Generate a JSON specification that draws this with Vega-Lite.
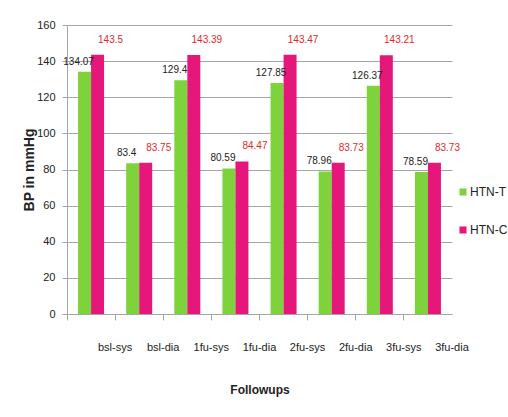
{
  "$schema": "https://vega.github.io/schema/vega-lite/v6.json",
  "width": 385,
  "height": 289,
  "autosize": {"type": "none"},
  "padding": {"left": 67, "top": 25, "right": 56, "bottom": 103},
  "background": "white",
  "config": {
    "view": {"stroke": null},
    "font": "Liberation Sans, Arial, sans-serif"
  },
  "data": {
    "values": [
      {"followup": "bsl-sys", "group": "HTN-T", "bp": 134.07},
      {"followup": "bsl-sys", "group": "HTN-C", "bp": 143.5},
      {"followup": "bsl-dia", "group": "HTN-T", "bp": 83.4},
      {"followup": "bsl-dia", "group": "HTN-C", "bp": 83.75},
      {"followup": "1fu-sys", "group": "HTN-T", "bp": 129.4},
      {"followup": "1fu-sys", "group": "HTN-C", "bp": 143.39},
      {"followup": "1fu-dia", "group": "HTN-T", "bp": 80.59},
      {"followup": "1fu-dia", "group": "HTN-C", "bp": 84.47},
      {"followup": "2fu-sys", "group": "HTN-T", "bp": 127.85},
      {"followup": "2fu-sys", "group": "HTN-C", "bp": 143.47},
      {"followup": "2fu-dia", "group": "HTN-T", "bp": 78.96},
      {"followup": "2fu-dia", "group": "HTN-C", "bp": 83.73},
      {"followup": "3fu-sys", "group": "HTN-T", "bp": 126.37},
      {"followup": "3fu-sys", "group": "HTN-C", "bp": 143.21},
      {"followup": "3fu-dia", "group": "HTN-T", "bp": 78.59},
      {"followup": "3fu-dia", "group": "HTN-C", "bp": 83.73}
    ]
  },
  "encoding": {
    "x": {
      "field": "followup",
      "type": "nominal",
      "sort": null,
      "scale": {"paddingInner": 0, "paddingOuter": 0},
      "axis": {
        "title": "Followups",
        "titleFontSize": 12,
        "titleFontWeight": "bold",
        "titleColor": "#222222",
        "titlePadding": 32,
        "labelAngle": 0,
        "labelFontSize": 11,
        "labelColor": "#222222",
        "labelPadding": 21,
        "bandPosition": 0,
        "labelOffset": 24,
        "tickSize": 6,
        "tickColor": "#a6a6a6",
        "domainColor": "#a6a6a6",
        "grid": false
      }
    },
    "xOffset": {
      "field": "group",
      "type": "nominal",
      "sort": ["HTN-T", "HTN-C"],
      "scale": {"paddingInner": 0, "paddingOuter": 0.85}
    },
    "y": {
      "field": "bp",
      "type": "quantitative",
      "scale": {"domain": [0, 160], "nice": false},
      "axis": {
        "title": "BP in mmHg",
        "titleFontSize": 14,
        "titleFontWeight": "bold",
        "titleColor": "#222222",
        "titlePadding": 0,
        "values": [0, 20, 40, 60, 80, 100, 120, 140, 160],
        "labelFontSize": 11,
        "labelColor": "#222222",
        "labelPadding": 7,
        "tickSize": 5,
        "tickColor": "#a6a6a6",
        "domainColor": "#a6a6a6",
        "gridColor": "#a6a6a6",
        "gridWidth": 1
      }
    }
  },
  "layer": [
    {
      "mark": {"type": "bar"},
      "encoding": {
        "color": {
          "field": "group",
          "type": "nominal",
          "sort": ["HTN-T", "HTN-C"],
          "scale": {"domain": ["HTN-T", "HTN-C"], "range": ["#7ED23C", "#E6177A"]},
          "legend": {
            "title": null,
            "orient": "none",
            "legendX": 390,
            "legendY": 161,
            "symbolType": "square",
            "symbolSize": 50,
            "symbolStrokeWidth": 0,
            "labelFontSize": 12,
            "labelColor": "#222222",
            "labelOffset": 1,
            "rowPadding": 26
          }
        }
      }
    },
    {
      "transform": [{"filter": "datum.group === 'HTN-T'"}],
      "mark": {"type": "text", "baseline": "middle", "dx": -6, "dy": -10, "fontSize": 10, "color": "#222222"},
      "encoding": {"text": {"field": "bp", "type": "nominal"}}
    },
    {
      "transform": [{"filter": "datum.group === 'HTN-C'"}],
      "mark": {"type": "text", "baseline": "middle", "dx": 13, "dy": -15, "fontSize": 10, "color": "#E0282C"},
      "encoding": {"text": {"field": "bp", "type": "nominal"}}
    }
  ]
}
